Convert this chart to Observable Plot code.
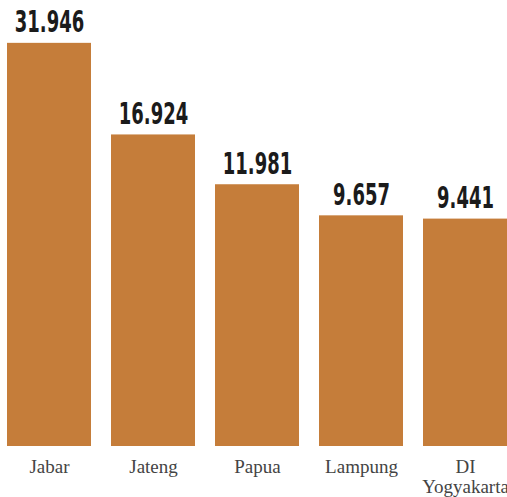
<!DOCTYPE html>
<html>
<head>
<meta charset="utf-8">
<script src="https://cdn.jsdelivr.net/npm/d3@7"></script>
<script src="https://cdn.jsdelivr.net/npm/@observablehq/plot@0.6"></script>
<style>
  html, body { margin: 0; padding: 0; background: #fff; }
  #chart svg { display: block; }
</style>
</head>
<body>
<div id="chart"></div>
<script>
const categories = ["Jabar", "Jateng", "Papua", "Lampung", "DI Yogyakarta"];
const values = [31946, 16924, 11981, 9657, 9441];
const yDomain = [1950, 43000];

const data = categories.map((c, i) => ({category: c, value: values[i]}));
const idFormat = d3.formatLocale({decimal: ",", thousands: ".", grouping: [3], currency: ["Rp", ""]}).format(",");

const chart = Plot.plot({
  width: 507,
  height: 497,
  marginLeft: 6,
  marginRight: 0,
  marginTop: 0,
  marginBottom: 51,
  style: {background: "#fff", overflow: "visible"},
  x: {domain: categories, paddingInner: 0.194, paddingOuter: 0, label: null},
  y: {type: "log", domain: yDomain, axis: null},
  marks: [
    Plot.rectY(data, {
      x: "category",
      y1: yDomain[0],
      y2: "value",
      fill: "#C57D3A"
    }),
    Plot.text(data, {
      x: "category",
      y: "value",
      text: d => idFormat(d.value),
      lineAnchor: "bottom",
      dy: -11,
      fontSize: 30,
      fontWeight: "bold",
      fontFamily: "'DejaVu Sans', sans-serif",
      fill: "#1b1b1b",
      className: "vlabel"
    }),
    Plot.axisX({
      tickSize: 0,
      tickPadding: 12,
      fontSize: 19,
      fontFamily: "'Liberation Serif', 'DejaVu Serif', serif",
      fill: "#444",
      lineHeight: 1.05,
      tickFormat: d => d.replace(" ", "\n"),
      label: null
    })
  ]
});
document.getElementById("chart").appendChild(chart);

// condense the value labels horizontally around their anchor (no condensed font installed)
d3.select(chart).selectAll(".vlabel text").each(function () {
  const t = d3.select(this);
  const x = +t.attr("x") || 0;
  const y = +t.attr("y") || 0;
  const prev = t.attr("transform") || "";
  t.attr("transform", `${prev} translate(${x},${y}) scale(0.6,1) translate(${-x},${-y})`);
});
</script>
</body>
</html>
